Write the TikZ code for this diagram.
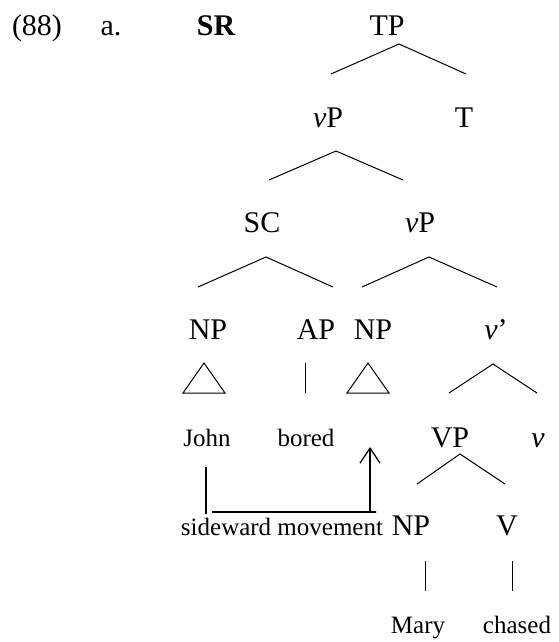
\documentclass[tikz,border=0pt]{standalone}
\usepackage{fontspec}
\setmainfont{Liberation Serif}
\usetikzlibrary{arrows.meta}
\begin{document}
\begin{tikzpicture}[x=1pt,y=-1pt,
  lab/.style={anchor=base,inner sep=0pt,font=\fontsize{30}{36}\selectfont},
  word/.style={anchor=base,inner sep=0pt,font=\fontsize{25}{30}\selectfont},
  br/.style={line width=1pt},
  mv/.style={line width=1.3pt}]
\useasboundingbox (0,0) rectangle (558,642);
% labels
\node[lab] (n88) at (37,36) {(88)};
\node[lab] (a) at (111,36) {a.};
\node[lab,font=\fontsize{30}{36}\selectfont\bfseries] (SR) at (216,36) {SR};
\node[lab] (TP) at (387,36) {TP};
\node[lab] (vP2) at (328,127) {\textit{v}P};
\node[lab] (T) at (464,127) {T};
\node[lab] (SC) at (262,232) {SC};
\node[lab] (vP3) at (420,232) {\textit{v}P};
\node[lab] (NP1) at (208,339) {NP};
\node[lab] (AP) at (316,339) {AP};
\node[lab] (NP2) at (373,339) {NP};
\node[lab] (vbar) at (496,339) {\textit{v}’};
\node[word] (John) at (207,446) {John};
\node[word] (bored) at (306,446) {bored};
\node[lab] (VP) at (450,447) {VP};
\node[lab] (v) at (538,447) {\textit{v}};
\node[word] (sm) at (282,535) {sideward movement};
\node[lab] (NP3) at (411,535) {NP};
\node[lab] (V) at (507,535) {V};
\node[word] (Mary) at (418,633) {Mary};
\node[word] (chased) at (517,633) {chased};
% branches
\draw[br] (331,74) -- (399,44) -- (466,74);
\draw[br] (269,180) -- (336,151) -- (403,180);
\draw[br] (198,287) -- (266,257) -- (333,287);
\draw[br] (362,287) -- (429,257) -- (497,287);
\draw[br] (183,393) -- (204,363) -- (225,393) -- cycle;
\draw[br] (305,363) -- (305,393);
\draw[br] (347,393) -- (368,363) -- (389,393) -- cycle;
\draw[br] (449,393) -- (493,364) -- (537,393);
\draw[br] (417,484) -- (460,454) -- (505,484);
\draw[br] (425,561) -- (425,591);
\draw[br] (512,561) -- (512,591);
% sideward movement
\draw[mv] (206,467) -- (206,514);
\draw[mv,-{Straight Barb[length=15pt,width=20pt,line width=1.3pt]}] (212,512) -- (376,512) -- (370,512) -- (370,447);
\end{tikzpicture}
\end{document}
